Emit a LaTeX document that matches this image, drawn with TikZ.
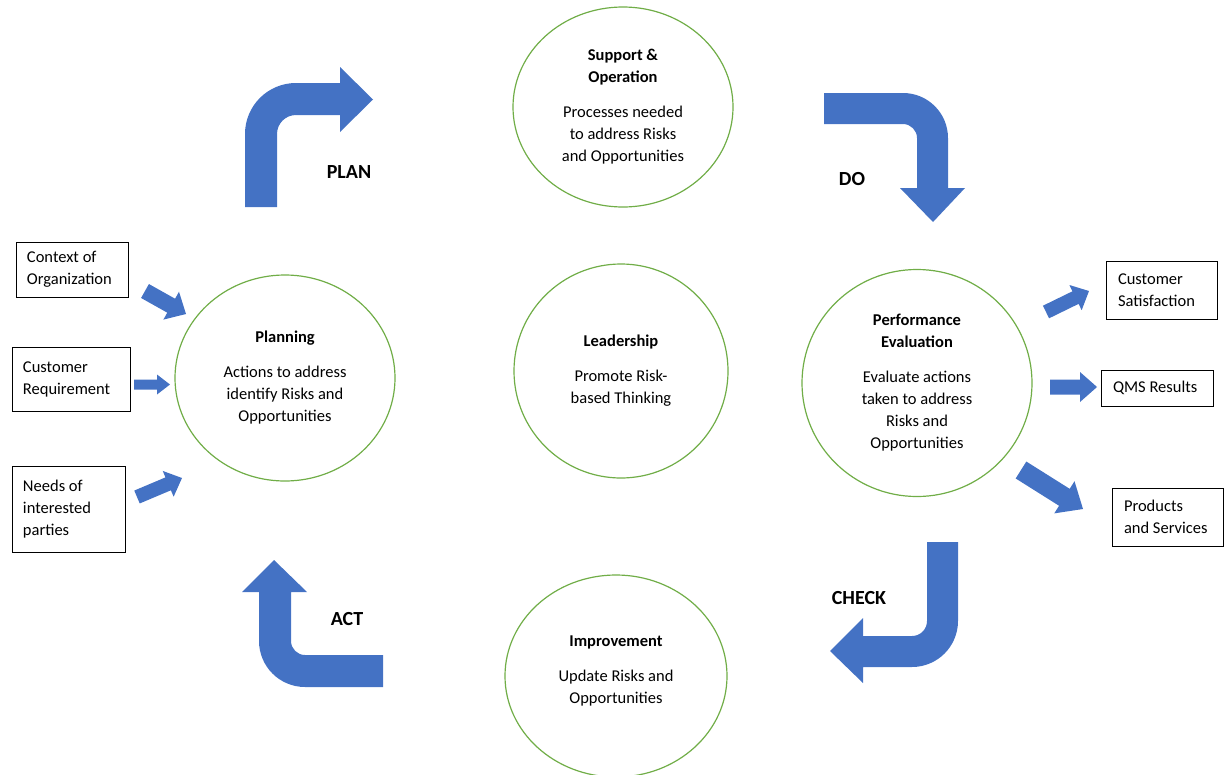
\documentclass[tikz,border=0pt]{standalone}
\usepackage{fontspec}
\setmainfont{Carlito}
\usetikzlibrary{calc,shapes.geometric}
\definecolor{flowblue}{HTML}{4472C4}
\definecolor{ringgreen}{HTML}{70AD47}

% block arrow from #1 (tail) to #2 (tip): half shaft, half head, head length
\newcommand\flowarrow[5]{%
  \coordinate (fa-base) at ($(#2)!#5!(#1)$);
  \fill[flowblue] ($(#1)!#3!90:(#2)$) -- ($(fa-base)!#3!90:(#2)$)
    -- ($(fa-base)!#4!90:(#2)$) -- (#2) -- ($(fa-base)!#4!-90:(#2)$)
    -- ($(fa-base)!#3!-90:(#2)$) -- ($(#1)!#3!-90:(#2)$) -- cycle;
}

\begin{document}
\begin{tikzpicture}[x=1pt,y=-1pt,
  body/.style={font=\fontsize{16.5}{22}\selectfont},
  stage/.style={ellipse, draw=ringgreen, line width=1.2pt, inner sep=0pt,
    align=center, body},
  inbox/.style={draw, line width=0.8pt, align=flush left, inner xsep=11pt,
    inner ysep=0pt, body},
  phase/.style={font=\fontsize{20}{24}\selectfont\bfseries},
  turnarrow/.style={fill=flowblue}]
\useasboundingbox (0,0) rectangle (1226,774);

% PDCA bent arrows
\fill[turnarrow] (245,207) -- (245,134) .. controls (245,105.8) and (267.8,83) .. (296,83)
  -- (340,83) -- (340,67) -- (373,99.5) -- (340,132) -- (340,115) -- (296,115)
  .. controls (285.5,115) and (277,123.5) .. (277,134) -- (277,207) -- cycle;
\fill[turnarrow] (824,93) -- (903,93) .. controls (927.9,93) and (948,113.1) .. (948,138)
  -- (948,188) -- (965,188) -- (933,222) -- (900,188) -- (917,188) -- (917,138)
  .. controls (917,130.3) and (910.7,124) .. (903,124) -- (824,124) -- cycle;
\fill[turnarrow] (927,542) -- (958,542) -- (958,621) .. controls (958,646.4) and (937.4,667) .. (912,667)
  -- (863,667) -- (863,683) -- (830,651) -- (863,618) -- (863,636) -- (912,636)
  .. controls (920.3,636) and (927,629.3) .. (927,621) -- cycle;
\fill[turnarrow] (383,655) -- (305,655) .. controls (297.3,655) and (291,648.7) .. (291,641)
  -- (291,592) -- (307,592) -- (274,560) -- (242,592) -- (259,592) -- (259,641)
  .. controls (259,666.4) and (279.6,687) .. (305,687) -- (383,687) -- cycle;

\node[phase] (plan) at (349,172) {PLAN};
\node[phase] (do) at (852,179) {DO};
\node[phase] (check) at (859,598) {CHECK};
\node[phase] (act) at (347,619) {ACT};

% stages
\node[stage, minimum width=220pt, minimum height=200pt] (sup) at (623,107)
  {\textbf{Support \&}\\\textbf{Operation}\\[13pt]Processes needed\\to address Risks\\and Opportunities};
\node[stage, minimum width=220pt, minimum height=206pt] (pla) at (285,378)
  {\textbf{Planning}\\[13pt]Actions to address\\identify Risks and\\Opportunities};
\node[stage, minimum width=214pt, minimum height=214pt] (lead) at (621,371)
  {\textbf{Leadership}\\[13pt]Promote Risk-\\based Thinking};
\node[stage, minimum width=230pt, minimum height=227pt] (perf) at (917,383)
  {\textbf{Performance}\\\textbf{Evaluation}\\[13pt]Evaluate actions\\taken to address\\Risks and\\Opportunities};
\node[stage, minimum width=222pt, minimum height=202pt] (imp) at (616,676)
  {\textbf{Improvement}\\[13pt]Update Risks and\\Opportunities\\[-10pt]};

% inputs
\node[inbox, text width=90pt, minimum height=55pt] (ctx) at (72,269.5) {Context of\\Organization};
\node[inbox, text width=96pt, minimum height=64pt] (req) at (71,379) {Customer\\Requirement};
\node[inbox, text width=91pt, minimum height=86pt] (needs) at (68.5,509) {Needs of\\interested\\parties};

% outputs
\node[inbox, text width=87pt, inner xsep=12pt, minimum height=58pt] (sat) at (1161.5,290) {Customer\\Satisfaction};
\node[inbox, text width=88pt, inner xsep=12pt, minimum height=36pt] (qms) at (1157,388) {QMS Results};
\node[inbox, text width=87pt, inner xsep=12pt, minimum height=58pt] (prod) at (1167.5,517) {Products\\and Services};

% input and output arrows
\coordinate (ctx-t) at (145,291);   \coordinate (ctx-h) at (186,314);
\coordinate (req-t) at (134,384.5); \coordinate (req-h) at (170,384.5);
\coordinate (needs-t) at (137,497); \coordinate (needs-h) at (182,478);
\coordinate (sat-t) at (1046,312);  \coordinate (sat-h) at (1089,291);
\coordinate (qms-t) at (1050,387);  \coordinate (qms-h) at (1097,387);
\coordinate (prod-t) at (1021,470); \coordinate (prod-h) at (1083,509);

\flowarrow{ctx-t}{ctx-h}{8pt}{16pt}{17pt}
\flowarrow{req-t}{req-h}{5pt}{10pt}{13pt}
\flowarrow{needs-t}{needs-h}{7pt}{14pt}{15pt}
\flowarrow{sat-t}{sat-h}{7pt}{14pt}{15pt}
\flowarrow{qms-t}{qms-h}{7.5pt}{15pt}{17pt}
\flowarrow{prod-t}{prod-h}{10pt}{19pt}{22pt}
\end{tikzpicture}
\end{document}
